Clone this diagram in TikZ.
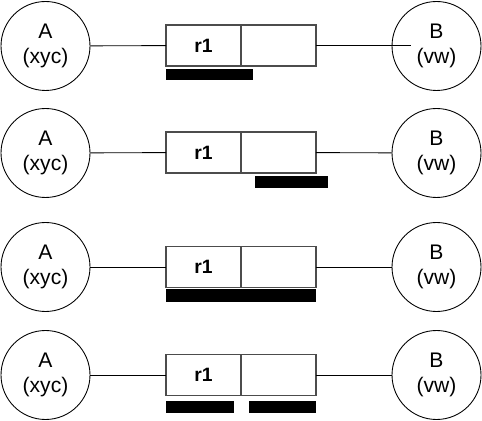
\documentclass[tikz,border=0pt]{standalone}
\usepackage{fontspec}
\setmainfont{Liberation Sans}
\usetikzlibrary{positioning}

\begin{document}
\begin{tikzpicture}[x=0.02cm, y=-0.02cm,
        uzel/.style={circle, draw, line width=0.5pt, minimum size=1.78cm, inner sep=0pt,
                     align=center, font=\fontsize{12}{14}\selectfont},
        bunka/.style={rectangle, draw=black!70, line width=0.7pt, minimum width=1.5cm,
                      minimum height=0.82cm, inner sep=0pt, outer sep=0pt,
                      font=\bfseries\fontsize{11}{12}\selectfont},
        spoj/.style={line width=0.5pt}]
        \useasboundingbox (0,0) rectangle (482,421);

        % první řádek
        \node[uzel] (A1) at (45.5,46) {A\\(xyc)};
        \node[uzel] (B1) at (436.5,46) {B\\(vw)};
        \node[bunka] (r1) at (203.5,45.5) {r1};
        \node[bunka, right=0pt of r1] (e1) {};
        \coordinate (k1) at (411,45.5);
        \draw[spoj] (A1) -- (r1);
        \draw[spoj] (e1) -- (k1);
        \fill (166,69) rectangle (253,80);

        % druhý řádek
        \node[uzel] (A2) at (45.5,153) {A\\(xyc)};
        \node[uzel] (B2) at (436.5,153) {B\\(vw)};
        \node[bunka] (r2) at (203.5,152.5) {r1};
        \node[bunka, right=0pt of r2] (e2) {};
        \draw[spoj] (A2) -- (r2);
        \draw[spoj] (e2) -- (B2);
        \fill (255,176) rectangle (328,188);

        % třetí řádek
        \node[uzel] (A3) at (45.5,267) {A\\(xyc)};
        \node[uzel] (B3) at (436.5,267) {B\\(vw)};
        \node[bunka] (r3) at (203.5,267) {r1};
        \node[bunka, right=0pt of r3] (e3) {};
        \draw[spoj] (A3) -- (r3);
        \draw[spoj] (e3) -- (B3);
        \fill (166,289) rectangle (316,302);

        % čtvrtý řádek
        \node[uzel] (A4) at (45.5,375) {A\\(xyc)};
        \node[uzel] (B4) at (436.5,375) {B\\(vw)};
        \node[bunka] (r4) at (203.5,375) {r1};
        \node[bunka, right=0pt of r4] (e4) {};
        \draw[spoj] (A4) -- (r4);
        \draw[spoj] (e4) -- (B4);
        \fill (166,401) rectangle (234,413);
        \fill (249,401) rectangle (316,413);
    \end{tikzpicture}
\end{document}
